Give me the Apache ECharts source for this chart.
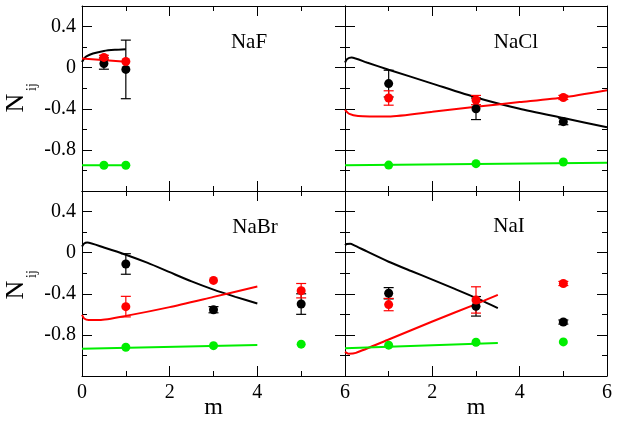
<!DOCTYPE html>
<html><head><meta charset="utf-8">
<script src="https://cdn.jsdelivr.net/npm/echarts@6/dist/echarts.min.js"></script>
<style>html,body{margin:0;padding:0;background:#fff}#c{width:620px;height:422px}</style>
</head><body><div id="c"></div><script>
// ---- data ----
const panelNames = ['NaF', 'NaCl', 'NaBr', 'NaI'];
const xTickLabels = [0, 2, 4, 6];
const yTickLabels = [0.4, 0, -0.4, -0.8];

// curves [m, N]
const nafBlackCurve = [[0,0.055],[0.05,0.09],[0.1,0.11],[0.25,0.138],[0.5,0.163],[0.75,0.174],[1,0.18]];
const nafRedCurve = [[0,0.088],[1,0.058]];
const nafGreenCurve = [[0,-0.95],[1,-0.95]];

const naclBlackCurve = [[0,0.05],[0.05,0.085],[0.15,0.1],[0.5,0.05],[1,-0.02],[2,-0.155],[3,-0.29],[4,-0.4],[5,-0.49],[6,-0.58]];
const naclRedCurve = [[0,-0.41],[0.1,-0.45],[0.3,-0.47],[1,-0.475],[2,-0.43],[3,-0.38],[4,-0.335],[5,-0.29],[6,-0.22]];
const naclGreenCurve = [[0,-0.95],[6,-0.925]];

const nabrBlackCurve = [[0,0.06],[0.05,0.09],[0.12,0.1],[0.5,0.05],[1,-0.02],[1.5,-0.1],[2,-0.19],[2.5,-0.28],[3,-0.36],[3.5,-0.43],[4,-0.495]];
const nabrRedCurve = [[0,-0.605],[0.05,-0.64],[0.15,-0.655],[0.4,-0.655],[1,-0.615],[2,-0.53],[3,-0.43],[4,-0.33]];
const nabrGreenCurve = [[0,-0.934],[4,-0.898]];

const naiBlackCurve = [[0,0.072],[0.04,0.084],[0.12,0.086],[0.2,0.074],[0.5,0.012],[1,-0.088],[1.5,-0.176],[2,-0.262],[2.5,-0.35],[3,-0.44],[3.5,-0.54]];
const naiRedCurve = [[0,-0.965],[0.08,-0.983],[0.25,-0.975],[1,-0.845],[2,-0.67],[3,-0.5],[3.5,-0.41]];
const naiGreenCurve = [[0,-0.93],[3.5,-0.878]];

// points [m, N, error]
const nafBlackPts = [[0.5,0.04,0.055],[1,-0.017,0.285]];
const nafRedPts = [[0.5,0.1,0.02],[1,0.06,0.0]];
const nafGreenPts = [[0.5,-0.95,0],[1,-0.95,0]];

const naclBlackPts = [[1,-0.155,0.13],[3,-0.4,0.105],[5,-0.525,0.03]];
const naclRedPts = [[1,-0.295,0.07],[3,-0.315,0.045],[5,-0.29,0.02]];
const naclGreenPts = [[1,-0.948,0],[3,-0.934,0],[5,-0.918,0]];

const nabrBlackPts = [[1,-0.11,0.1],[3,-0.555,0.03],[5,-0.5,0.1]];
const nabrRedPts = [[1,-0.525,0.1],[3,-0.27,0],[5,-0.37,0.07]];
const nabrGreenPts = [[1,-0.92,0],[3,-0.905,0],[5,-0.89,0]];

const naiBlackPts = [[1,-0.395,0.055],[3,-0.522,0.095],[5,-0.675,0.02]];
const naiRedPts = [[1,-0.505,0.06],[3,-0.46,0.128],[5,-0.30,0.02]];
const naiGreenPts = [[1,-0.90,0],[3,-0.872,0],[5,-0.868,0]];

// ---- build ----
const FONT = '"Liberation Serif", "DejaVu Serif", serif';
const BLACK = '#000000', RED = '#ff0000', GREEN = '#00ee00';
const panels = [
  {curves:[nafBlackCurve,nafRedCurve,nafGreenCurve], pts:[nafBlackPts,nafRedPts,nafGreenPts]},
  {curves:[naclBlackCurve,naclRedCurve,naclGreenCurve], pts:[naclBlackPts,naclRedPts,naclGreenPts]},
  {curves:[nabrBlackCurve,nabrRedCurve,nabrGreenCurve], pts:[nabrBlackPts,nabrRedPts,nabrGreenPts]},
  {curves:[naiBlackCurve,naiRedCurve,naiGreenCurve], pts:[naiBlackPts,naiRedPts,naiGreenPts]}
];
const colors = [BLACK, RED, GREEN];
const L = 82, M = 345, R = 607, T = 6, H = 185;
const grids = [
  {left:L, top:T, width:M-L, height:H},
  {left:M, top:T, width:R-M, height:H},
  {left:L, top:T+H, width:M-L, height:H},
  {left:M, top:T+H, width:R-M, height:H}
].map(g => Object.assign({outerBoundsMode:'none', containLabel:false, show:false}, g));

const near = (a,b) => Math.abs(a-b) < 1e-6;
const xAxes = [], yAxes = [], series = [];
const tickStyle = {color:BLACK, width:1};
grids.forEach((g, i) => {
  ['bottom','top'].forEach(pos => {
    xAxes.push({
      gridIndex:i, type:'value', min:xTickLabels[0], max:xTickLabels[xTickLabels.length-1], interval:2, position:pos,
      axisLine:{show:true, onZero:false, lineStyle:{color:BLACK, width:1}},
      axisTick:{show:true, inside:true, length:10, lineStyle:tickStyle},
      minorTick:{show:true, splitNumber:2, length:5, lineStyle:tickStyle},
      splitLine:{show:false}, minorSplitLine:{show:false},
      axisLabel:{show: pos==='bottom' && i>=2, showMinLabel: i!==3, showMaxLabel:true,
        color:BLACK, fontFamily:FONT, fontSize:20, margin:7,
        formatter: v => xTickLabels.some(t => near(t,v)) ? String(Math.round(v)) : ''}
    });
  });
  ['left','right'].forEach(pos => {
    [0.4, 0.2].forEach(iv => {
      yAxes.push({
        gridIndex:i, type:'value', min:-1.2, max:0.6, interval:iv, position:pos,
        axisLine:{show: iv===0.4, onZero:false, lineStyle:{color:BLACK, width:1}},
        axisTick:{show:true, inside:true, length: iv===0.4 ? 10 : 5, lineStyle:tickStyle},
        minorTick:{show:false}, splitLine:{show:false},
        axisLabel:{show: pos==='left' && iv===0.4 && i%2===0, color:BLACK, fontFamily:FONT, fontSize:20, margin:6,
          formatter: v => { const t = yTickLabels.find(t => near(t,v)); return t===undefined ? '' : String(t); }}
      });
    });
  });
  const p = panels[i];
  p.curves.forEach((c, k) => {
    series.push({type:'line', xAxisIndex:2*i, yAxisIndex:4*i, data:c, showSymbol:false, smooth:0.2,
      lineStyle:{color:colors[k], width:2}, z:2, silent:true});
  });
  p.pts.forEach((pts, k) => {
    if (k < 2) {
      series.push({type:'custom', xAxisIndex:2*i, yAxisIndex:4*i, z:3, silent:true,
        data: pts.filter(d => d[2] > 0).map(d => [d[0], d[1]-d[2], d[1]+d[2]]),
        renderItem: (params, api) => {
          const lo = api.coord([api.value(0), api.value(1)]);
          const hi = api.coord([api.value(0), api.value(2)]);
          const w = 5;
          const st = {stroke:colors[k], lineWidth:1.2};
          return {type:'group', children:[
            {type:'line', shape:{x1:lo[0], y1:lo[1], x2:hi[0], y2:hi[1]}, style:st},
            {type:'line', shape:{x1:lo[0]-w, y1:lo[1], x2:lo[0]+w, y2:lo[1]}, style:st},
            {type:'line', shape:{x1:hi[0]-w, y1:hi[1], x2:hi[0]+w, y2:hi[1]}, style:st}
          ]};
        }});
    }
    series.push({type:'scatter', xAxisIndex:2*i, yAxisIndex:4*i, z:4, silent:true,
      data: pts.map(d => [d[0], d[1]]), symbol:'circle', symbolSize:9, itemStyle:{color:colors[k], opacity:1}});
  });
});

const labelPos = [[249,42],[516,42],[255,227],[509,226]];
const graphic = [];
panelNames.forEach((n, i) => graphic.push({type:'text', x:labelPos[i][0], y:labelPos[i][1], z:10,
  style:{text:n, font:'21px ' + FONT, fill:BLACK, align:'center', verticalAlign:'middle'}}));
[(L+M)/2, (M+R)/2].forEach(x => graphic.push({type:'text', x:x, y:408, z:10,
  style:{text:'m', font:'24px ' + FONT, fill:BLACK, align:'center', verticalAlign:'middle'}}));
[103, 290].forEach(y => {
  graphic.push({type:'text', x:16, y:y, rotation:Math.PI/2, z:10,
    style:{text:'N', font:'26px ' + FONT, fill:BLACK, align:'center', verticalAlign:'middle'}});
  graphic.push({type:'text', x:32, y:y-16, rotation:Math.PI/2, z:10,
    style:{text:'ij', font:'14px ' + FONT, fill:BLACK, align:'center', verticalAlign:'middle'}});
});

const chart = echarts.init(document.getElementById('c'), null, {renderer:'canvas'});
chart.setOption({animation:false, backgroundColor:'#fff', grid:grids, xAxis:xAxes, yAxis:yAxes, series:series, graphic:graphic});
</script></body></html>
